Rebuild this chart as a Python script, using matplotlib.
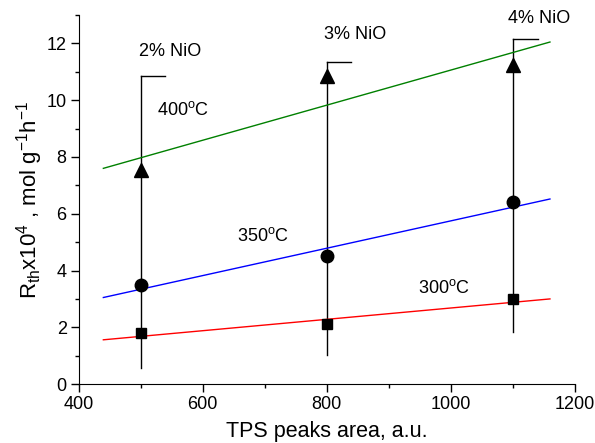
import matplotlib
matplotlib.use("Agg")
import matplotlib.pyplot as plt
from matplotlib.ticker import MultipleLocator

plt.rcParams['font.family'] = ['Liberation Sans', 'DejaVu Sans']
plt.rcParams['mathtext.fontset'] = 'custom'
plt.rcParams['mathtext.rm'] = 'Liberation Sans'
plt.rcParams['mathtext.it'] = 'Liberation Sans'

# TPS peak area for the three NiO loadings
tps_area = [500, 800, 1100]
nio_labels = ["2% NiO", "3% NiO", "4% NiO"]

# Rate values (x10^4) at each temperature
rate_300 = [1.8, 2.1, 3.0]
rate_350 = [3.5, 4.5, 6.4]
rate_400 = [7.55, 10.85, 11.25]

# Range bars (low / high) for each loading
bar_low = [0.55, 1.02, 1.85]
bar_high = [10.85, 11.35, 12.17]

# Linear fits drawn across the range
fit_x = [440, 1160]
fit_300 = [1.56, 3.0]
fit_350 = [3.05, 6.52]
fit_400 = [7.6, 12.05]

fig = plt.figure(figsize=(5.95, 4.43), dpi=100)
ax = fig.add_axes([0.132, 0.133, 0.834, 0.833])

# vertical range bars with a short cap pointing right
for x, lo, hi in zip(tps_area, bar_low, bar_high):
    ax.plot([x, x], [lo, hi], color='black', lw=1.0, zorder=1)
    ax.plot([x, x + 40], [hi, hi], color='black', lw=1.0, zorder=1)

ax.plot(fit_x, fit_300, color='red', lw=1.0, zorder=2)
ax.plot(fit_x, fit_350, color='blue', lw=1.0, zorder=2)
ax.plot(fit_x, fit_400, color='green', lw=1.0, zorder=2)

ax.plot(tps_area, rate_300, 's', color='black', ms=7.5, zorder=3)
ax.plot(tps_area, rate_350, 'o', color='black', ms=9, zorder=3)
ax.plot(tps_area, rate_400, '^', color='black', ms=10, zorder=3)

# loading labels above each bar
label_pos = [(497, 11.72), (795, 12.3), (1093, 12.88)]
for (lx, ly), txt in zip(label_pos, nio_labels):
    ax.text(lx, ly, txt, fontsize=13, va='center', ha='left')

ax.text(526, 9.67, r"400$^{\rm o}$C", fontsize=13, va='center', ha='left')
ax.text(655, 5.22, r"350$^{\rm o}$C", fontsize=13, va='center', ha='left')
ax.text(948, 3.39, r"300$^{\rm o}$C", fontsize=13, va='center', ha='left')

ax.set_xlim(400, 1200)
ax.set_ylim(0, 13)
ax.set_xticks([400, 600, 800, 1000, 1200])
ax.set_yticks([0, 2, 4, 6, 8, 10, 12])
ax.xaxis.set_minor_locator(MultipleLocator(100))
ax.yaxis.set_minor_locator(MultipleLocator(1))
ax.tick_params(which='major', direction='out', length=5.5, width=1, labelsize=13, pad=3)
ax.tick_params(which='minor', direction='out', length=3, width=1)

ax.spines['top'].set_visible(False)
ax.spines['right'].set_visible(False)

ax.set_xlabel("TPS peaks area, a.u.", fontsize=15.5, labelpad=6)
ax.set_ylabel(r"R$_{\rm th}$x10$^{4}$ , mol g$^{-1}$h$^{-1}$", fontsize=16, labelpad=1)

fig.savefig("out.png", dpi=100)
